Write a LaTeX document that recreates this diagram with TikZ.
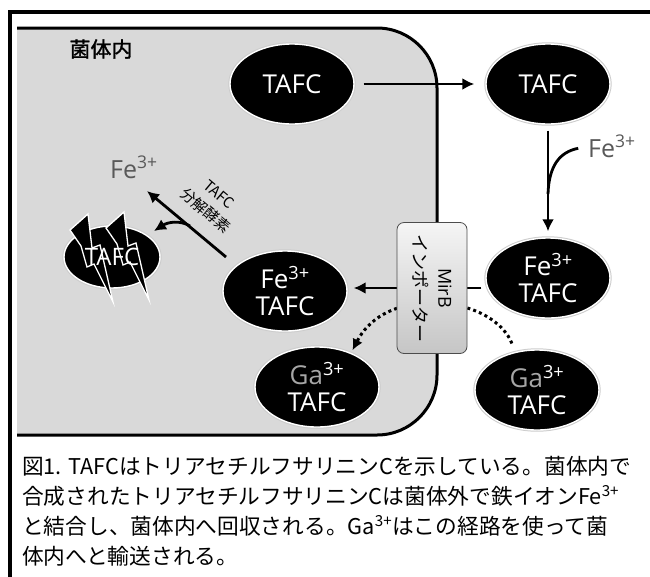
\documentclass[tikz,border=0pt]{standalone}
\usepackage{fontspec}
\setmainfont{Open Sans}
\newfontfamily\jpfont[AutoFakeBold=1.5]{Noto Sans CJK JP}
\usetikzlibrary{shapes.geometric,arrows.meta,positioning}

\begin{document}
\begin{tikzpicture}[x=1pt,y=-1pt,
  mol/.style={ellipse,fill=black,draw=white,line width=1.4pt,
    preaction={draw=black!20,line width=3.4pt},
    minimum width=124pt,minimum height=80pt,inner sep=0pt,
    text=white,align=center,font=\fontsize{26}{27}\selectfont},
  flow/.style={line width=2.8pt,-{Latex[length=12pt,width=12pt]}},
  uptake/.style={line width=3pt,dash pattern=on 3pt off 3.2pt,
    -{Latex[length=11pt,width=11pt]}},
  ion/.style={text=black!65,font=\fontsize{25}{27}\selectfont,inner sep=0pt},
  bolt/.style={fill=black,draw=white,line width=1.3pt,line join=miter}]
\useasboundingbox (0,0) rectangle (650,576);

% frame and cell
\draw[line width=4pt] (10,580) -- (10,12) -- (650,12);
\draw[fill=gray!30,line width=3pt,rounded corners=60pt]
  (17,28) -- (437,28) -- (437,435) -- (17,435);
\node[font=\jpfont\bfseries\fontsize{21}{23}\selectfont] (cell) at (101,49) {菌体内};

% siderophores
\node[mol] (tafcIn) at (292,84) {TAFC};
\node[mol] (tafcOut) at (548,84) {TAFC};
\node[mol] (feOut) at (548,278) {Fe\textsuperscript{3+}\\TAFC};
\node[mol] (feIn) at (285,291) {Fe\textsuperscript{3+}\\TAFC};
\node[mol] (gaIn) at (317,387) {\textcolor{gray!70}{Ga}\textsuperscript{3+}\\TAFC};
\node[mol] (gaOut) at (537,390) {\textcolor{gray!70}{Ga}\textsuperscript{3+}\\TAFC};

% broken TAFC
\node[mol,minimum width=96pt,minimum height=62pt] (tafcDeg) at (112,257) {};
\foreach \bx/\by in {70/214,106/212}
  \draw[bolt,shift={(\bx,\by)}] (0,16) -- (18,0) -- (22,34) -- (30,31) -- (43,88)
    -- (24,50) -- (17,53) -- (11,32) -- cycle;
\node[text=white,font=\fontsize{24}{26}\selectfont] (tafcDegLbl) at (tafcDeg) {TAFC};

% iron
\node[ion,anchor=base west] (feIon) at (588,157) {Fe\textsuperscript{3+}};
\node[ion,anchor=base west] (feFree) at (110,178) {Fe\textsuperscript{3+}};
\coordinate (join) at (548,194);
\coordinate (gate) at (432,288);
\coordinate (gaPass) at (432,303);
\coordinate (degFrom) at (226,257);
\coordinate (degTo) at (147,191);
\coordinate (split) at (190,226);
\coordinate (degTip) at (154,231);

\draw[flow,shorten <=9pt,shorten >=11pt] (tafcIn) -- (tafcOut);
\draw[flow,shorten <=6pt,shorten >=6pt] (tafcOut) -- (feOut);
\draw[line width=2.8pt,shorten <=10pt] (feIon.west) .. controls (560,152) and (549,165) .. (join);
\draw[flow,shorten <=4pt,shorten >=6pt] (feOut.west |- gate) -- (feIn.east |- gate);
\draw[uptake,shorten <=9pt,shorten >=3pt] (gaOut.120) .. controls (505,325) and (478,303) .. (gaPass)
  .. controls (392,303) and (368,320) .. (gaIn.45);
\draw[flow] (degFrom) -- (degTo);
\draw[flow] (split) .. controls (180,220) and (168,222) .. (degTip);
\node[rotate=-40,align=center,font=\jpfont\fontsize{15}{21}\selectfont] (enzyme) at (212,203)
  {TAFC\\分解酵素};

% importer
\node[rotate=-90,draw=black!70,line width=0.8pt,rounded corners=7pt,
  top color=gray!8,bottom color=gray!45,minimum width=131pt,minimum height=70pt,
  align=center,inner sep=2pt,font=\fontsize{18}{25}\selectfont] (mirb) at (gate)
  {MirB\\\jpfont インポーター};

% legend
\node[anchor=north west,align=left,inner sep=0pt,
  font=\jpfont\fontsize{21.7}{30}\selectfont] (caption) at (22,456)
  {図1. TAFCはトリアセチルフサリニンCを示している。菌体内で\\
   合成されたトリアセチルフサリニンCは菌体外で鉄イオンFe\textsuperscript{3+}\\
   と結合し、菌体内へ回収される。Ga\textsuperscript{3+}はこの経路を使って菌\\
   体内へと輸送される。};
\end{tikzpicture}
\end{document}
